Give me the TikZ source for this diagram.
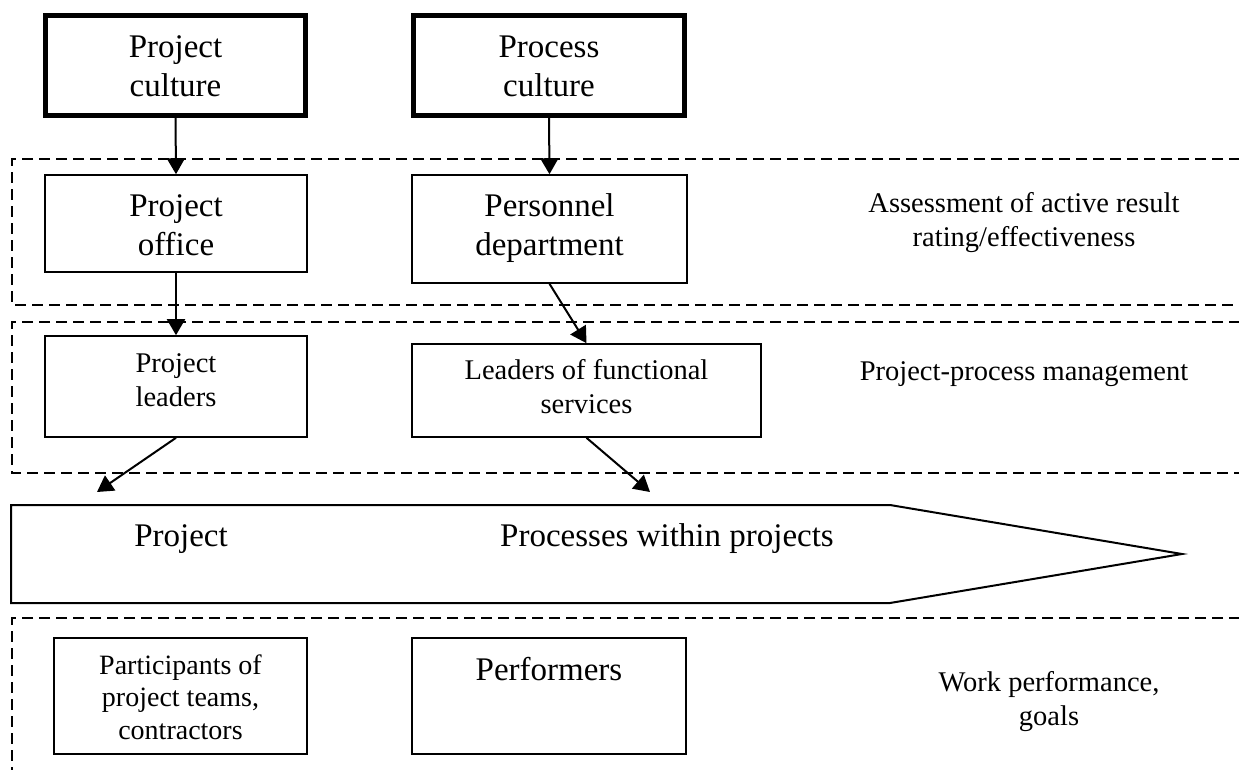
\documentclass[tikz,border=0pt]{standalone}
\usepackage{fontspec}
\setmainfont{Liberation Serif}
\usetikzlibrary{arrows.meta}
\tikzset{
  box/.style={draw, line width=1.6pt, inner sep=0pt, minimum width=#1},
  thickbox/.style={box=#1, line width=5pt},
  band/.style={line width=1.5pt, dash pattern=on 11pt off 6pt},
  conn/.style={line width=2pt, -{Triangle[length=16pt,width=18pt]}},
  lblA/.style={align=center, inner sep=0pt, font=\fontsize{33}{39}\selectfont},
  lblB/.style={align=center, inner sep=0pt, font=\fontsize{28.5}{34}\selectfont},
  lblC/.style={align=center, inner sep=0pt, font=\fontsize{28}{32.5}\selectfont},
}
\begin{document}
\begin{tikzpicture}[x=1pt,y=-1pt]
\useasboundingbox (0,0) rectangle (1239,769);

% dashed bands
\draw[band] (1240,159) -- (12,159) -- (12,305) -- (1240,305);
\draw[band] (1240,322) -- (12,322) -- (12,473) -- (1240,473);
\draw[band] (1240,618) -- (12,618) -- (12,772);

% top culture boxes
\node[thickbox=260pt, minimum height=100pt] (pjc) at (175.5,65.5) {};
\node[thickbox=271pt, minimum height=100pt] (prc) at (549,65.5) {};
\node[lblA] (pjct) at (175.5,66) {Project\\culture};
\node[lblA] (prct) at (549,66) {Process\\culture};

% band 1
\node[box=262pt, minimum height=97pt] (po) at (176,223.5) {};
\node[box=275pt, minimum height=108pt] (pd) at (549.5,229) {};
\node[lblA] (pot) at (176,225) {Project\\office};
\node[lblA] (pdt) at (549.5,228) {Personnel\\department};
\node[lblB] (asst) at (1024,222.5) {Assessment of active result\\rating/effectiveness};

% band 2
\node[box=262pt, minimum height=101pt] (pl) at (176,386.5) {};
\node[box=349pt, minimum height=93pt] (lf) at (586.5,390.5) {};
\node[lblB] (plt) at (176,380.5) {Project\\leaders};
\node[lblB] (lft) at (586.5,387) {Leaders of functional\\services};
\node[lblB] (ppm) at (1024,374) {Project-process management};

% big arrow
\draw[line width=2pt, line join=miter] (11,505) -- (890,505) -- (1182,554) -- (890,603) -- (11,603) -- cycle;
\node[lblA] (prj) at (181,539) {Project};
\node[lblA] (pwp) at (667,539) {Processes within projects};
\coordinate (e1) at (97,492);
\coordinate (e2) at (650,492);

% band 3
\node[box=253pt, minimum height=116pt] (pt) at (180.5,696) {};
\node[box=274pt, minimum height=116pt] (pf) at (549,696) {};
\node[lblC] (ptt) at (180.5,697) {Participants of\\project teams,\\contractors};
\node[lblA] (pft) at (549,668.7) {Performers};
\node[lblB] (wpg) at (1049,701.5) {Work performance,\\goals};

% connectors
\draw[conn] (pjc.south) -- (po.north);
\draw[conn] (prc.south) -- (pd.north);
\draw[conn] (po.south) -- (pl.north);
\draw[conn] (pd.south) -- (lf.north);
\draw[conn] (pl.south) -- (e1);
\draw[conn] (lf.south) -- (e2);
\end{tikzpicture}
\end{document}
